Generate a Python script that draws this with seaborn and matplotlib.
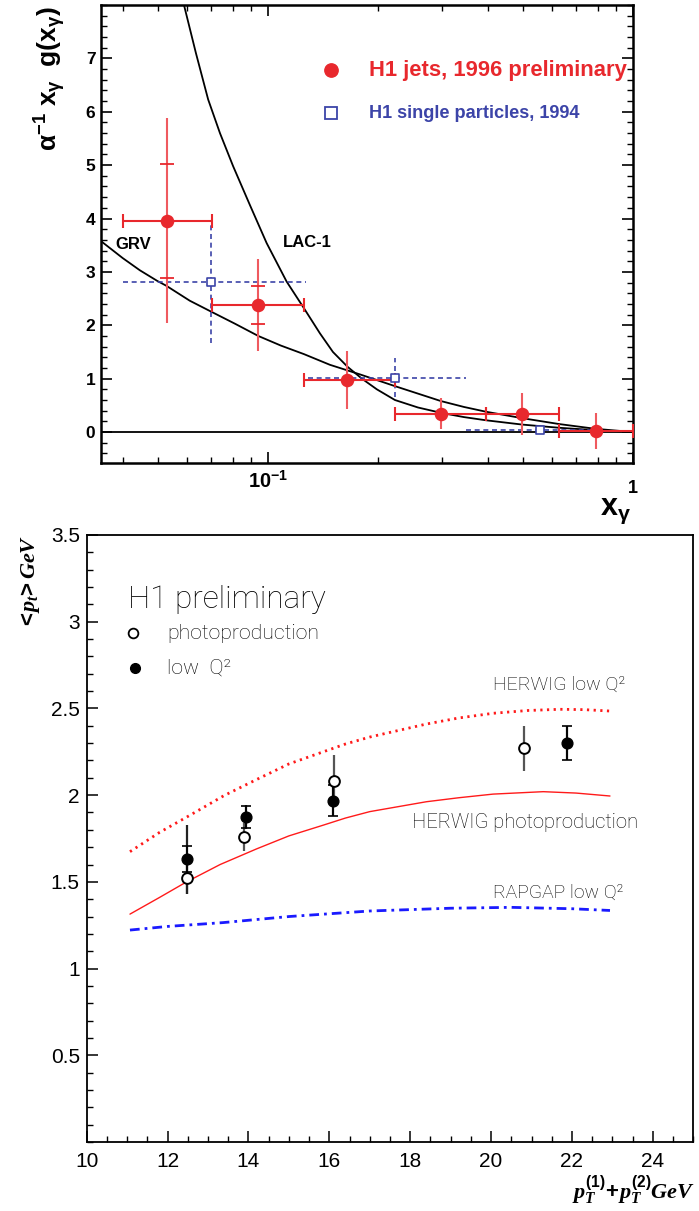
import numpy as np
import pandas as pd
import matplotlib
matplotlib.use("Agg")
import matplotlib.pyplot as plt
from matplotlib.ticker import MultipleLocator, FixedLocator, NullFormatter, FixedFormatter
import seaborn as sns

# ---------------- data: top panel (photon gluon density) ----------------
jets_x = [0.053, 0.094, 0.165, 0.298, 0.497, 0.79]
jets_y = [3.96, 2.38, 0.98, 0.34, 0.34, 0.02]
jets_xlo = [0.040, 0.0704, 0.1256, 0.2228, 0.396, 0.627]
jets_xhi = [0.0704, 0.1256, 0.2228, 0.396, 0.627, 1.0]
jets_err_dn = [1.92, 0.86, 0.54, 0.29, 0.40, 0.33]
jets_err_up = [1.92, 0.86, 0.54, 0.29, 0.39, 0.33]
jets_stat = [1.07, 0.35, 0.0, 0.0, 0.0, 0.0]

sp_x = [0.0697, 0.223, 0.556]
sp_y = [2.81, 1.02, 0.04]
sp_xlo = [0.040, 0.129, 0.349]
sp_xhi = [0.127, 0.349, 0.81]
sp_err_dn = [1.15, 0.37, 0.0]
sp_err_up = [1.10, 0.36, 0.0]

grv_x = [0.035, 0.040, 0.0446, 0.0498, 0.0527, 0.0611, 0.0697, 0.0812, 0.0941, 0.1085, 0.1255,
         0.1478, 0.1787, 0.2228, 0.2576, 0.2978, 0.3443, 0.396, 0.497, 0.627, 0.79, 1.0]
grv_y = [3.57, 3.26, 3.03, 2.83, 2.74, 2.46, 2.26, 2.03, 1.80, 1.62, 1.46,
         1.26, 1.08, 0.86, 0.72, 0.58, 0.47, 0.38, 0.26, 0.15, 0.06, 0.0]
lac_x = [0.0589, 0.0635, 0.0686, 0.0739, 0.0803, 0.0893, 0.0992, 0.1125, 0.1255, 0.1388, 0.1507,
         0.1654, 0.1809, 0.1988, 0.2228, 0.2576, 0.2978, 0.3443, 0.396, 0.497, 0.627, 0.79, 1.0]
lac_y = [8.0, 7.1, 6.23, 5.6, 4.98, 4.25, 3.54, 2.82, 2.32, 1.85, 1.50,
         1.22, 1.0, 0.80, 0.60, 0.46, 0.36, 0.28, 0.22, 0.14, 0.08, 0.035, 0.0]

top_yticks = [0, 1, 2, 3, 4, 5, 6, 7]

# ---------------- data: bottom panel (<pt> vs pt1+pt2) ----------------
photo_x = [12.47, 13.90, 16.12, 20.81]
photo_y = [1.52, 1.76, 2.08, 2.27]
photo_err = [0.09, 0.08, 0.15, 0.13]

lowq_x = [12.47, 13.95, 16.10, 21.87]
lowq_y = [1.63, 1.875, 1.968, 2.30]
lowq_tot = [0.20, 0.07, 0.09, 0.10]
lowq_stat = [0.075, 0.065, 0.09, 0.10]

hw_low_x = [11.07, 11.8, 12.56, 13.4, 14.2, 15.0, 15.85, 16.4, 17.0, 18.4, 19.2, 20.05, 20.9, 21.7, 22.3, 22.94]
hw_low_y = [1.674, 1.785, 1.885, 1.998, 2.090, 2.180, 2.250, 2.295, 2.335, 2.410, 2.445, 2.472, 2.488, 2.495, 2.493, 2.485]
hw_ph_x = [11.07, 11.8, 12.47, 13.3, 14.2, 15.0, 15.85, 16.4, 17.0, 18.4, 19.2, 20.05, 21.29, 22.1, 22.94]
hw_ph_y = [1.314, 1.410, 1.500, 1.600, 1.690, 1.765, 1.827, 1.868, 1.905, 1.962, 1.985, 2.006, 2.020, 2.012, 1.995]
rap_x = [11.07, 12.0, 13.37, 15.0, 17.0, 19.0, 20.5, 22.0, 22.94]
rap_y = [1.222, 1.243, 1.265, 1.300, 1.332, 1.348, 1.353, 1.345, 1.335]

bot_xticks = [10, 12, 14, 16, 18, 20, 22, 24]
bot_yticks = [0.5, 1, 1.5, 2, 2.5, 3, 3.5]
bot_ylabels = ["0.5", "1", "1.5", "2", "2.5", "3", "3.5"]

# ---------------- style ----------------
sns.set_theme(style="white")
plt.rcParams["font.family"] = ["Liberation Sans", "DejaVu Sans"]
plt.rcParams["mathtext.fontset"] = "custom"
plt.rcParams["mathtext.rm"] = "Liberation Sans:bold"
plt.rcParams["mathtext.it"] = "Liberation Serif:bold:italic"
plt.rcParams["mathtext.bf"] = "Liberation Serif:bold:italic"
plt.rcParams["mathtext.sf"] = "Liberation Sans"
plt.rcParams["text.color"] = "black"
plt.rcParams["xtick.color"] = "black"
plt.rcParams["ytick.color"] = "black"

RED = "#e8282d"
RED_L = "#ef5a5f"
BLUE = "#3c44a8"

W, H = 699, 1211
fig = plt.figure(figsize=(W / 100, H / 100), dpi=100)
ax1 = fig.add_axes([101 / W, 1 - 463 / H, 532 / W, 458 / H])
ax2 = fig.add_axes([86.7 / W, 1 - 1142 / H, 606.6 / W, 607 / H])

# ================= top panel =================
ax1.set_xscale("log")
ax1.axhline(0, color="black", lw=1.3, zorder=1)
sns.lineplot(x=grv_x, y=grv_y, ax=ax1, color="black", lw=1.3, sort=False, estimator=None, zorder=2)
sns.lineplot(x=lac_x, y=lac_y, ax=ax1, color="black", lw=1.3, sort=False, estimator=None, zorder=2)

sx = np.array(sp_x)
eb = ax1.errorbar(sp_x, sp_y, xerr=[sx - np.array(sp_xlo), np.array(sp_xhi) - sx],
                  yerr=[sp_err_dn, sp_err_up], fmt="none", ecolor=BLUE, elinewidth=1.2, zorder=3)
for lc in eb[2]:
    lc.set_linestyle((0, (3, 2.2)))
sns.scatterplot(x=sp_x, y=sp_y, ax=ax1, marker="s", s=26, color="white", edgecolor=BLUE,
                linewidth=1.2, zorder=6)

jx = np.array(jets_x)
ax1.errorbar(jets_x, jets_y, yerr=[jets_err_dn, jets_err_up], fmt="none", ecolor=RED_L,
             elinewidth=1.5, capsize=0, zorder=4)
ax1.errorbar(jets_x, jets_y, xerr=[jx - np.array(jets_xlo), np.array(jets_xhi) - jx], fmt="none",
             ecolor=RED, elinewidth=1.5, capsize=4.7, capthick=1.5, zorder=4)
st = [(x, y, s) for x, y, s in zip(jets_x, jets_y, jets_stat) if s > 0]
ax1.errorbar([a[0] for a in st], [a[1] for a in st], yerr=[a[2] for a in st], fmt="none",
             ecolor=RED, elinewidth=0, capsize=4.7, capthick=1.3, zorder=4)
sns.scatterplot(x=jets_x, y=jets_y, ax=ax1, color=RED, s=95, linewidth=0, zorder=5)

ax1.set_xlim(0.0349, 1.0)
ax1.set_ylim(-0.58, 8.0)
ax1.set_xlabel("")
ax1.set_ylabel("")
ax1.xaxis.set_major_locator(FixedLocator([0.1, 1.0]))
ax1.xaxis.set_major_formatter(FixedFormatter([r"$\mathrm{10^{-1}}$", ""]))
ax1.xaxis.set_minor_locator(FixedLocator([0.04, 0.05, 0.06, 0.07, 0.08, 0.09,
                                          0.2, 0.3, 0.4, 0.5, 0.6, 0.7, 0.8, 0.9]))
ax1.xaxis.set_minor_formatter(NullFormatter())
ax1.yaxis.set_major_locator(FixedLocator(top_yticks))
ax1.yaxis.set_minor_locator(MultipleLocator(0.2))
ax1.tick_params(which="both", direction="in", top=True, right=True, bottom=True, left=True)
ax1.tick_params(which="major", length=8, width=1.2, labelsize=12.5, pad=4)
ax1.tick_params(axis="x", which="major", labelsize=14.5, pad=5)
ax1.tick_params(which="minor", length=4, width=1.0)
for lab in ax1.get_yticklabels():
    lab.set_fontweight("bold")
for sp in ax1.spines.values():
    sp.set_linewidth(1.8)
    sp.set_color("black")

ax1.text(1.0, -0.038, "1", transform=ax1.get_xaxis_transform(), ha="center", va="top",
         fontsize=13, fontweight="bold")
ax1.text(0.0381, 3.51, "GRV", ha="left", va="center", fontsize=12, fontweight="bold")
ax1.text(0.110, 3.55, "LAC-1", ha="left", va="center", fontsize=12, fontweight="bold")

# legend (top)
ax1.plot([0.432], [0.858], transform=ax1.transAxes, marker="o", ms=9.6, color=RED, ls="none")
ax1.text(0.504, 0.858, "H1 jets, 1996 preliminary", transform=ax1.transAxes, ha="left",
         va="center", fontsize=15.8, fontweight="bold", color=RED)
ax1.plot([0.432], [0.764], transform=ax1.transAxes, marker="s", ms=9, mfc="white", mec=BLUE,
         mew=1.3, ls="none")
ax1.text(0.504, 0.764, "H1 single particles, 1994", transform=ax1.transAxes, ha="left",
         va="center", fontsize=13.1, fontweight="bold", color=BLUE)

fig.text(50 / W, 1 - 79 / H, r"$\mathrm{\alpha^{-1}\ x_{\gamma}\ \ g(x_{\gamma})}$", rotation=90,
         ha="center", va="center", fontsize=19)
fig.text(631 / W, 1 - 511 / H, r"$\mathrm{x_{\gamma}}$", ha="right", va="center", fontsize=22)

# ================= bottom panel =================
sns.lineplot(x=hw_low_x, y=hw_low_y, ax=ax2, color="#ff1a1a", lw=2.0, sort=False, estimator=None,
             linestyle=(0, (0.8, 1.6)))
sns.lineplot(x=hw_ph_x, y=hw_ph_y, ax=ax2, color="#ff1a1a", lw=1.0, sort=False, estimator=None)
sns.lineplot(x=rap_x, y=rap_y, ax=ax2, color="#1a1aff", lw=2.0, sort=False, estimator=None,
             linestyle=(0, (3.5, 1.8, 1.0, 1.8)))

ax2.errorbar(photo_x, photo_y, yerr=photo_err, fmt="none", ecolor="#555555", elinewidth=1.6, zorder=3)
ax2.errorbar(lowq_x, lowq_y, yerr=lowq_tot, fmt="none", ecolor="#222222", elinewidth=1.6, zorder=3)
ax2.errorbar(lowq_x, lowq_y, yerr=lowq_stat, fmt="none", ecolor="black", elinewidth=1.2,
             capsize=3.3, capthick=1.2, zorder=3)
sns.scatterplot(x=photo_x, y=photo_y, ax=ax2, s=60, color="white", edgecolor="black",
                linewidth=1.4, zorder=5)
sns.scatterplot(x=lowq_x, y=lowq_y, ax=ax2, s=60, color="black", edgecolor="black",
                linewidth=1.0, zorder=5)

ax2.set_xlim(10, 25)
ax2.set_ylim(0, 3.5)
ax2.set_xlabel("")
ax2.set_ylabel("")
ax2.xaxis.set_major_locator(FixedLocator(bot_xticks))
ax2.xaxis.set_minor_locator(MultipleLocator(0.5))
ax2.yaxis.set_major_locator(FixedLocator(bot_yticks))
ax2.yaxis.set_major_formatter(FixedFormatter(bot_ylabels))
ax2.yaxis.set_minor_locator(MultipleLocator(0.1))
ax2.tick_params(which="both", direction="in", top=False, right=False, bottom=True, left=True)
ax2.tick_params(which="major", length=8, width=1.1, labelsize=15)
ax2.tick_params(axis="x", which="major", pad=7)
ax2.tick_params(axis="y", which="major", pad=5)
ax2.tick_params(which="minor", length=4, width=1.0)
for sp in ax2.spines.values():
    sp.set_linewidth(1.3)
    sp.set_color("black")

THIN = dict(family=["Roboto", "Lato", "DejaVu Sans"], fontweight="light", color="black")
ax2.text(0.068, 0.893, "H1 preliminary", transform=ax2.transAxes, ha="left", va="center",
         fontsize=22.7, **THIN)
ax2.plot([0.0765], [0.8385], transform=ax2.transAxes, marker="o", ms=7, mfc="white", mec="black",
         mew=1.3, ls="none")
ax2.text(0.132, 0.8385, "photoproduction", transform=ax2.transAxes, ha="left", va="center",
         fontsize=15.3, **THIN)
ax2.plot([0.0797], [0.781], transform=ax2.transAxes, marker="o", ms=7, mfc="black", mec="black",
         ls="none")
ax2.text(0.132, 0.781, "low  Q²", transform=ax2.transAxes, ha="left", va="center",
         fontsize=15.3, **THIN)

ax2.text(20.05, 2.635, "HERWIG low Q²", ha="left", va="center", fontsize=14, **THIN)
ax2.text(18.04, 1.84, "HERWIG photoproduction", ha="left", va="center", fontsize=14.6, **THIN)
ax2.text(20.05, 1.435, "RAPGAP low Q²", ha="left", va="center", fontsize=13.9, **THIN)

fig.text(30 / W, 1 - 582 / H, r"$<\!p_t\!>GeV$", rotation=90, ha="center", va="center", fontsize=16)
fig.text(695 / W, 1 - 1190 / H, r"$p_T^{\mathit{(1)}}\!+\!p_T^{\mathit{(2)}}GeV$", ha="right",
         va="center", fontsize=16)

fig.savefig("out.png", dpi=100)
